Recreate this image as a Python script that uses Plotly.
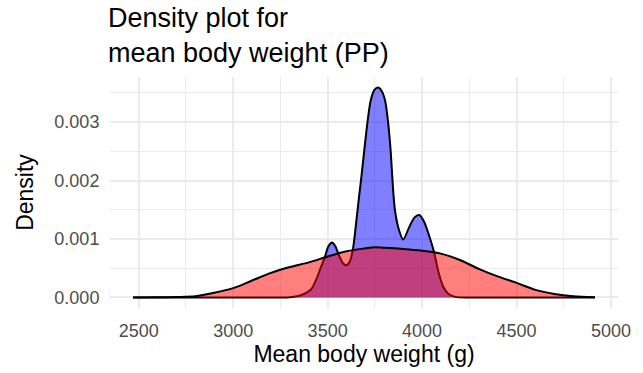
import plotly.graph_objects as go

# Density estimates (mean body weight, g)
blue_x = [2470, 3000, 3250, 3300, 3350, 3380, 3413, 3440, 3465, 3485, 3505, 3523, 3540,
          3560, 3580, 3600, 3618, 3635, 3650, 3667, 3680, 3693, 3711, 3728, 3748, 3767,
          3786, 3804, 3820, 3834, 3846, 3856, 3877, 3900, 3930, 3960, 3985, 4010, 4040,
          4062, 4088, 4114, 4140, 4176, 4250, 4500, 4915]
blue_y = [0.0, 0.0, 0.0, 0.000005, 0.00003, 0.00007, 0.00014, 0.00031, 0.00052, 0.00069,
          0.00088, 0.00094, 0.00088, 0.00072, 0.00059, 0.00055, 0.00062, 0.00085, 0.00125,
          0.00174, 0.0021, 0.00249, 0.003, 0.00337, 0.00355, 0.00359, 0.00353, 0.00337,
          0.003, 0.00249, 0.00187, 0.0015, 0.00116, 0.00099, 0.00119, 0.00137, 0.00141,
          0.0013, 0.00103, 0.00079, 0.00042, 0.00017, 0.00006, 0.00001, 0.0, 0.0, 0.0]

red_x = [2470, 2600, 2700, 2800, 2900, 3000, 3100, 3200, 3300, 3400, 3500, 3600, 3700,
         3750, 3800, 3900, 4000, 4100, 4200, 4300, 4400, 4500, 4600, 4700, 4800, 4915]
red_y = [0.0, 0.000002, 0.000008, 0.00002, 0.00008, 0.00016, 0.00029, 0.00042, 0.00052,
         0.0006, 0.0007, 0.00079, 0.00084, 0.00086, 0.00085, 0.00083, 0.0008, 0.00075,
         0.00064, 0.00049, 0.00036, 0.00025, 0.00013, 0.00006, 0.00002, 0.000003]

x_ticks = [2500, 3000, 3500, 4000, 4500, 5000]
y_ticks = [0.000, 0.001, 0.002, 0.003]
y_tick_labels = ["0.000", "0.001", "0.002", "0.003"]

FONT = "Liberation Sans, Arial, Helvetica, sans-serif"

fig = go.Figure()
fig.add_trace(go.Scatter(x=blue_x, y=blue_y, mode="lines", fill="tozeroy",
                         fillcolor="rgba(0,0,255,0.5)",
                         line=dict(color="black", width=2, shape="spline", smoothing=0.8),
                         showlegend=False, hoverinfo="skip"))
fig.add_trace(go.Scatter(x=red_x, y=red_y, mode="lines", fill="tozeroy",
                         fillcolor="rgba(255,0,0,0.5)",
                         line=dict(color="black", width=2, shape="spline", smoothing=0.8),
                         showlegend=False, hoverinfo="skip"))

fig.update_layout(
    width=643, height=373,
    margin=dict(l=110, r=23, t=77, b=63),
    paper_bgcolor="white", plot_bgcolor="white",
    font=dict(family=FONT, color="black"),
    title=dict(text="Density plot for<br>mean body weight (PP)",
               font=dict(size=27, color="black", family=FONT),
               x=108 / 643, xref="container", xanchor="left",
               y=1 - 27 / 373, yref="container", yanchor="top"),
    xaxis=dict(range=[2348, 5037], tickvals=x_ticks,
               ticktext=[str(v) for v in x_ticks],
               tickfont=dict(size=18, color="#4D4D4D"),
               showgrid=True, gridcolor="#EBEBEB", gridwidth=2,
               minor=dict(dtick=250, tick0=2250, showgrid=True, gridcolor="#EBEBEB", gridwidth=1.2),
               zeroline=False, showline=False, ticks="outside", ticklen=6, tickcolor="rgba(0,0,0,0)",
               title=dict(text="Mean body weight (g)", font=dict(size=23, color="black"), standoff=4)),
    yaxis=dict(range=[-0.00018, 0.00377], tickvals=y_ticks, ticktext=y_tick_labels,
               tickfont=dict(size=18, color="#4D4D4D"),
               showgrid=True, gridcolor="#EBEBEB", gridwidth=2,
               minor=dict(dtick=0.0005, tick0=0, showgrid=True, gridcolor="#EBEBEB", gridwidth=1.2),
               zeroline=False, showline=False, ticks="outside", ticklen=6, tickcolor="rgba(0,0,0,0)",
               title=dict(text="Density", font=dict(size=23, color="black"), standoff=14)),
)

fig.write_html("out.html")
